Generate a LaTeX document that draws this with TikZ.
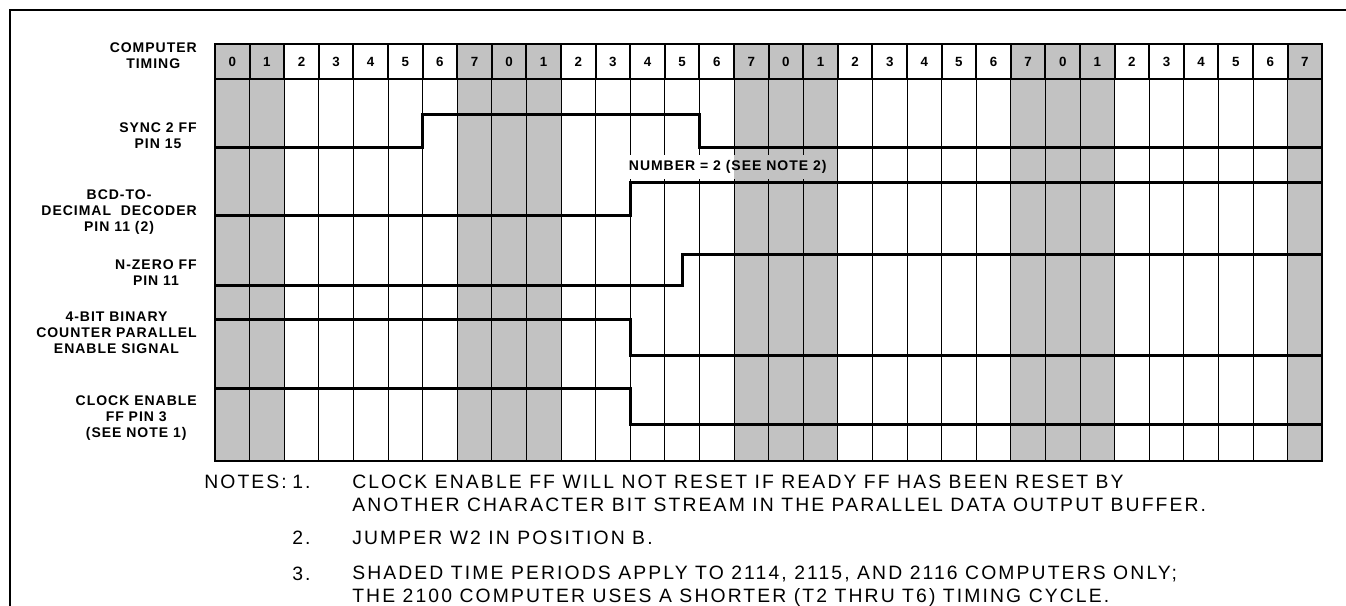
\documentclass[tikz,border=0pt]{standalone}
\usepackage{fontspec}
\newfontfamily\labfont[LetterSpace=7]{Liberation Sans}
\newfontfamily\notefont[LetterSpace=11]{Liberation Sans}
\definecolor{shadegray}{gray}{0.76}
\newcommand\cx[1]{215+34.6*(#1)}

\begin{document}
\begin{tikzpicture}[x=0.75pt,y=-0.75pt,
  sig lbl/.style={anchor=east,align=center,inner sep=0pt,
    font=\labfont\bfseries\fontsize{10.5}{12}\selectfont},
  cell num/.style={inner sep=0pt,font=\labfont\bfseries\fontsize{10}{11}\selectfont},
  note/.style={anchor=west,align=left,inner sep=0pt,
    font=\notefont\fontsize{14.5}{17.25}\selectfont},
  grid line/.style={line width=0.7pt},
  hdr line/.style={line width=1.5pt},
  wave/.style={line width=2.25pt},
  ]
\useasboundingbox (0,0) rectangle (1346,606);
\draw[line width=1.6pt] (10,606) |- (1346,10);

% shaded time periods
\foreach \i in {0,1,7,8,9,15,16,17,23,24,25,31}
  \fill[shadegray] ({\cx{\i}},44) rectangle ({\cx{\i+1}},461);
\foreach \i in {1,...,31} {
  \draw[grid line] ({\cx{\i}},79) -- ({\cx{\i}},461);
  \draw[hdr line] ({\cx{\i}},44) -- ({\cx{\i}},79);
}
\draw[hdr line] (215,79) -- (1322,79);
\draw[hdr line] (215,44) rectangle (1322,461);
\foreach \i [evaluate=\i as \n using {int(mod(\i,8))}] in {0,...,31}
  \node[cell num] (t\i) at ({\cx{\i+0.5}},62) {\n};

% signal names
\node[sig lbl] (timing) at (197,56) {COMPUTER\\TIMING};
\node[sig lbl] (sync) at (197,135.5) {SYNC 2 FF\\PIN 15};
\node[sig lbl] (bcd) at (197,212) {BCD-TO-\\DECIMAL\ \ DECODER\\PIN 11 (2)};
\node[sig lbl] (nzero) at (197,273) {N-ZERO FF\\PIN 11};
\node[sig lbl] (counter) at (197,332.5) {4-BIT BINARY\\COUNTER PARALLEL\\ENABLE SIGNAL};
\node[sig lbl] (clken) at (197,418.5) {CLOCK ENABLE\\FF PIN 3\\(SEE NOTE 1)};

\node[anchor=west,fill=white,inner xsep=2pt,inner ysep=4pt,
  font=\labfont\bfseries\fontsize{10.5}{12}\selectfont] (number) at (626,167)
  {NUMBER = 2 (SEE NOTE 2)};
\fill[shadegray,blend mode=multiply] ({\cx{15}},0 |- number.south) rectangle (number.north east);

% waveforms
\draw[wave] (215,148) -| ({\cx{6}},115) -| ({\cx{14}},148) -- (1322,148);
\draw[wave] (215,216) -| ({\cx{12}},183) -- (1322,183);
\draw[wave] (215,285) -| ({\cx{13.5}},254) -- (1322,254);
\draw[wave] (215,319) -| ({\cx{12}},355) -- (1322,355);
\draw[wave] (215,388) -| ({\cx{12}},424) -- (1322,424);

% notes
\node[note] (notes) at (204,482) {NOTES:};
\node[note] (n1) at (292,482) {1.};
\node[note] (t1) at (352,493.5) {CLOCK ENABLE FF WILL NOT RESET IF READY FF HAS BEEN RESET BY\\
  ANOTHER CHARACTER BIT STREAM IN THE PARALLEL DATA OUTPUT BUFFER.};
\node[note] (n2) at (292,538) {2.};
\node[note] (t2) at (352,538) {JUMPER W2 IN POSITION B.};
\node[note] (n3) at (292,574) {3.};
\node[note] (t3) at (352,586) {SHADED TIME PERIODS APPLY TO 2114, 2115, AND 2116 COMPUTERS ONLY;\\
  THE 2100 COMPUTER USES A SHORTER (T2 THRU T6) TIMING CYCLE.};
\end{tikzpicture}
\end{document}
